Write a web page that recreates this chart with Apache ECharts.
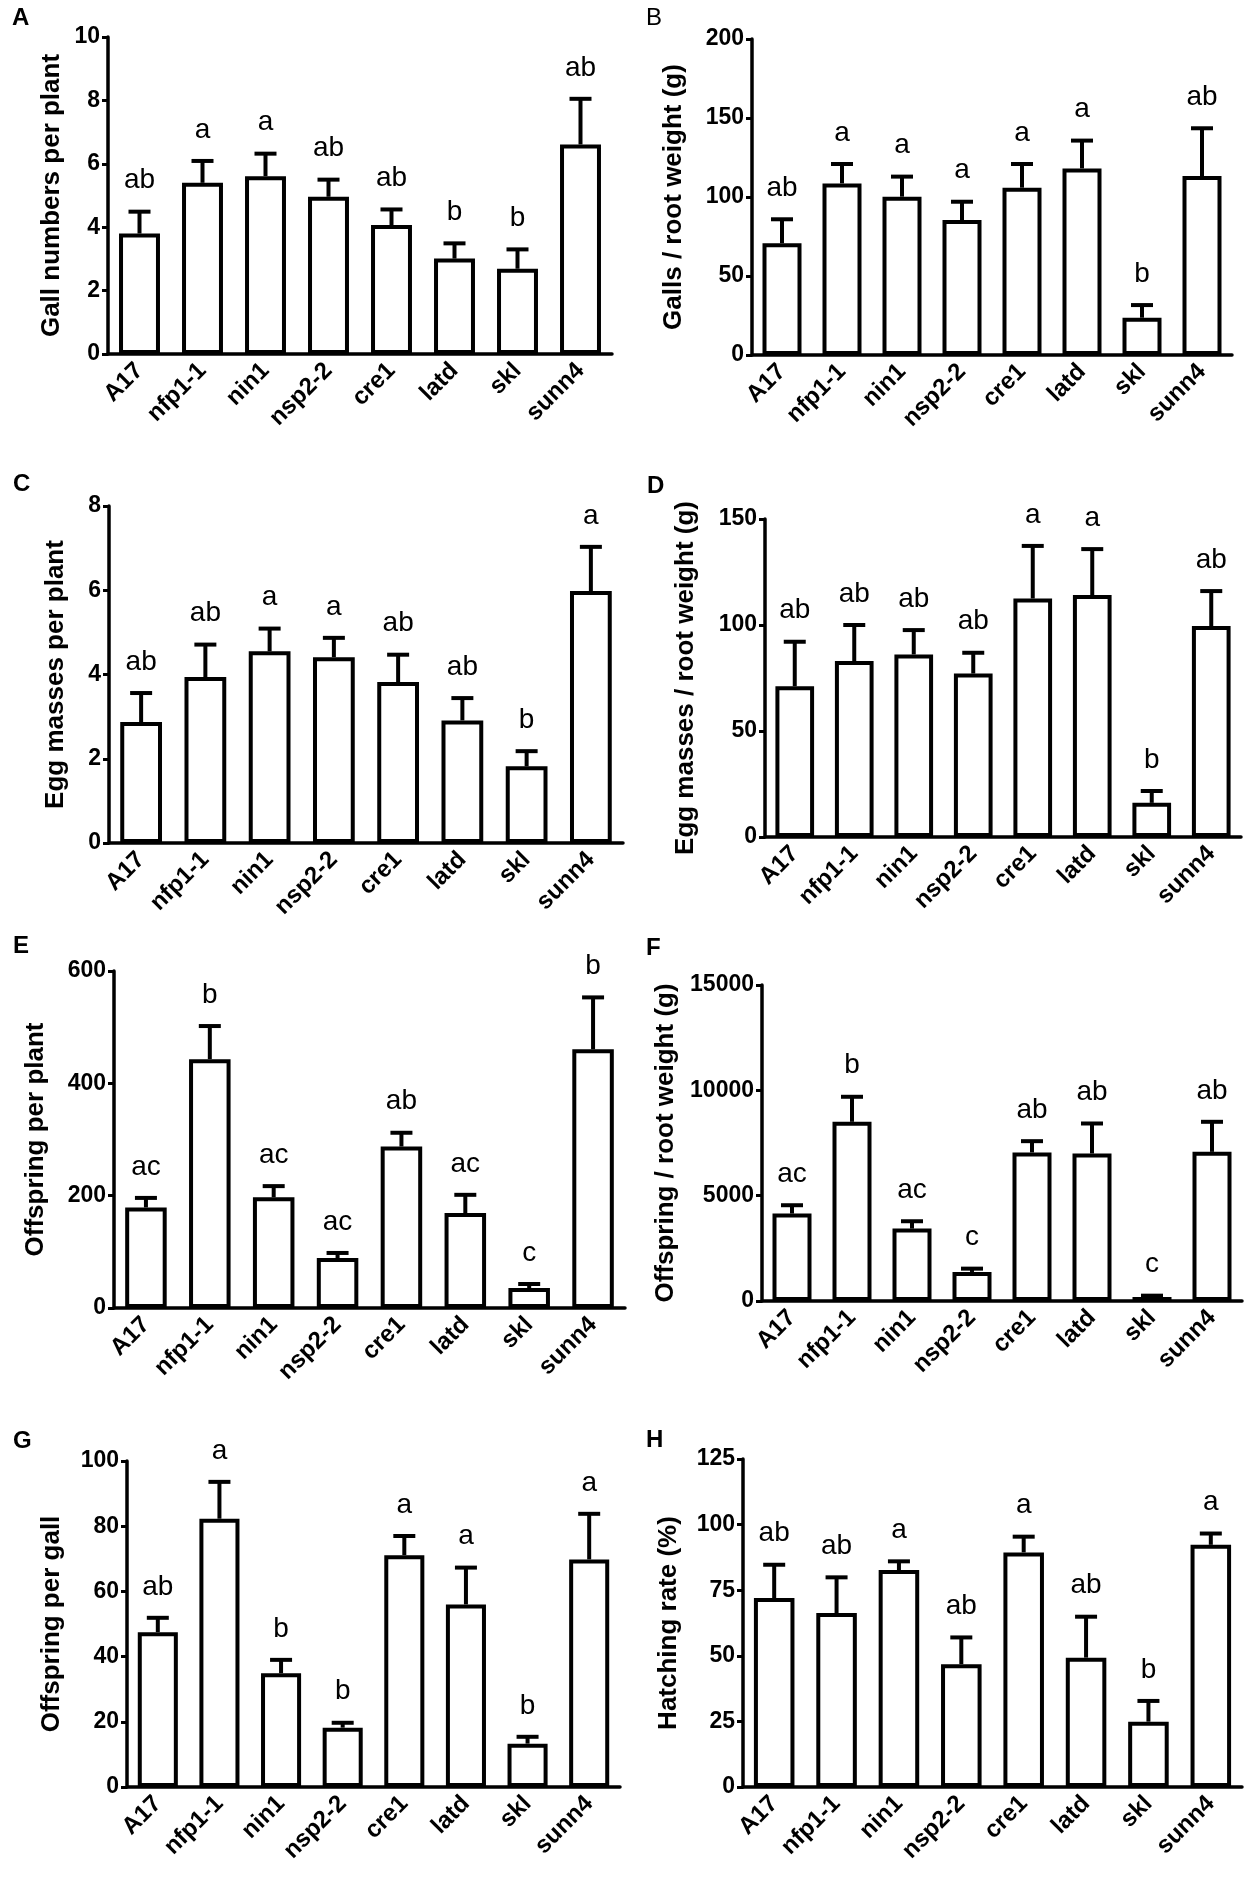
<!DOCTYPE html>
<html lang="en">
<head>
<meta charset="UTF-8">
<title>Nematode infection on nodulation mutants</title>
<script src="https://cdn.jsdelivr.net/npm/echarts@6/dist/echarts.min.js"></script>
<style>
html, body { margin: 0; background: #fff; }
#chart { width: 1244px; height: 1879px; }
</style>
</head>
<body>
<div id="chart"></div>
<script type="text/javascript">
var genotypes = ['A17', 'nfp1-1', 'nin1', 'nsp2-2', 'cre1', 'latd', 'skl', 'sunn4'];

// A - galls per plant
var gallsMean = [3.8, 5.4, 5.61, 4.96, 4.07, 3.01, 2.69, 6.61];
var gallsSem = [0.69, 0.69, 0.71, 0.54, 0.49, 0.48, 0.61, 1.44];
var gallsLetters = ['ab', 'a', 'a', 'ab', 'ab', 'b', 'b', 'ab'];
var gallsTicks = [0, 10, 2];

// B - galls / root weight
var gallsWtMean = [70.7, 108.6, 100.2, 85.4, 105.9, 118.1, 23.6, 113.3];
var gallsWtSem = [15.2, 12.3, 12.7, 11.6, 15.0, 17.6, 8.0, 30.2];
var gallsWtLetters = ['ab', 'a', 'a', 'a', 'a', 'a', 'b', 'ab'];
var gallsWtTicks = [0, 200, 50];

// C - egg masses per plant
var eggMean = [2.87, 3.94, 4.55, 4.41, 3.82, 2.91, 1.82, 5.98];
var eggSem = [0.69, 0.77, 0.54, 0.46, 0.65, 0.53, 0.36, 1.05];
var eggLetters = ['ab', 'ab', 'a', 'a', 'ab', 'ab', 'b', 'a'];
var eggTicks = [0, 8, 2];

// D - egg masses / root weight
var eggWtMean = [71.1, 83.0, 86.1, 77.1, 112.5, 114.1, 16.1, 99.5];
var eggWtSem = [21.0, 17.0, 11.5, 9.8, 24.8, 21.7, 5.6, 16.5];
var eggWtLetters = ['ab', 'ab', 'ab', 'ab', 'a', 'a', 'b', 'ab'];
var eggWtTicks = [0, 150, 50];

// E - offspring per plant
var offMean = [179, 443, 197, 89, 287.5, 169, 35.6, 460.6];
var offSem = [17, 59, 20, 9, 24.5, 32.5, 7.1, 92.4];
var offLetters = ['ac', 'b', 'ac', 'ac', 'ab', 'ac', 'c', 'b'];
var offTicks = [0, 600, 200];

// F - offspring / root weight
var offWtMean = [4150, 8506, 3437, 1378, 7049, 7001, 190, 7080];
var offWtSem = [396, 1188, 349, 158, 538, 1425, 63, 1426];
var offWtLetters = ['ac', 'b', 'ac', 'c', 'ab', 'ab', 'c', 'ab'];
var offWtTicks = [0, 15000, 5000];

// G - offspring per gall
var perGallMean = [47.5, 82.3, 34.9, 18.2, 71.1, 56.0, 13.3, 69.8];
var perGallSem = [4.4, 11.3, 4.1, 1.5, 5.9, 11.3, 2.1, 14.0];
var perGallLetters = ['ab', 'a', 'b', 'b', 'a', 'a', 'b', 'a'];
var perGallTicks = [0, 100, 20];

// H - hatching rate
var hatchMean = [72.0, 66.3, 82.7, 46.8, 89.4, 49.3, 24.9, 92.3];
var hatchSem = [12.7, 13.6, 3.3, 10.2, 6.0, 15.6, 7.9, 4.3];
var hatchLetters = ['ab', 'ab', 'a', 'ab', 'a', 'ab', 'b', 'a'];
var hatchTicks = [0, 125, 25];

var panels = [
    {tag: 'A', name: 'Gall numbers per plant', mean: gallsMean, sem: gallsSem, letters: gallsLetters, ticks: gallsTicks,
     grid: {left: 108, top: 37, width: 504, height: 317}, gap: 43, tagPos: [12, 6], bold: true},
    {tag: 'B', name: 'Galls / root weight (g)', mean: gallsWtMean, sem: gallsWtSem, letters: gallsWtLetters, ticks: gallsWtTicks,
     grid: {left: 752, top: 39, width: 480, height: 316}, gap: 65, tagPos: [646, 6], bold: false},
    {tag: 'C', name: 'Egg masses per plant', mean: eggMean, sem: eggSem, letters: eggLetters, ticks: eggTicks,
     grid: {left: 109, top: 506, width: 514, height: 337}, gap: 40, tagPos: [13, 472], bold: true},
    {tag: 'D', name: 'Egg masses / root weight (g)', mean: eggWtMean, sem: eggWtSem, letters: eggWtLetters, ticks: eggWtTicks,
     grid: {left: 765, top: 519, width: 476, height: 318}, gap: 66, tagPos: [647, 474], bold: true},
    {tag: 'E', name: 'Offspring per plant', mean: offMean, sem: offSem, letters: offLetters, ticks: offTicks,
     grid: {left: 114, top: 971, width: 511, height: 337}, gap: 65, tagPos: [13, 934], bold: true},
    {tag: 'F', name: 'Offspring / root weight (g)', mean: offWtMean, sem: offWtSem, letters: offWtLetters, ticks: offWtTicks,
     grid: {left: 762, top: 985, width: 480, height: 316}, gap: 83, tagPos: [646, 936], bold: true},
    {tag: 'G', name: 'Offspring per gall', mean: perGallMean, sem: perGallSem, letters: perGallLetters, ticks: perGallTicks,
     grid: {left: 127, top: 1461, width: 493, height: 326}, gap: 62, tagPos: [13, 1429], bold: true},
    {tag: 'H', name: 'Hatching rate (%)', mean: hatchMean, sem: hatchSem, letters: hatchLetters, ticks: hatchTicks,
     grid: {left: 743, top: 1459, width: 499, height: 328}, gap: 61, tagPos: [646, 1428], bold: true}
];

var FONT = 'Liberation Sans, Arial, Helvetica, sans-serif';
var grids = [], xAxes = [], yAxes = [], series = [], graphics = [];

panels.forEach(function (p, k) {
    grids.push(p.grid);
    xAxes.push({
        type: 'category', gridIndex: k, data: genotypes,
        axisLine: {lineStyle: {color: '#000', width: 3.5}},
        axisTick: {alignWithLabel: true, length: 8, lineStyle: {color: '#000', width: 3}},
        axisLabel: {rotate: 45, interval: 0, margin: 13, color: '#000', fontSize: 24, fontWeight: 'bold', fontFamily: FONT}
    });
    yAxes.push({
        type: 'value', gridIndex: k, min: p.ticks[0], max: p.ticks[1], interval: p.ticks[2],
        name: p.name, nameLocation: 'middle', nameGap: p.gap, nameRotate: 90,
        nameTextStyle: {color: '#000', fontSize: 26, fontWeight: 'bold', fontFamily: FONT},
        axisLine: {show: true, lineStyle: {color: '#000', width: 3.5}},
        axisTick: {show: true, length: 6, lineStyle: {color: '#000', width: 3}},
        axisLabel: {margin: 8, color: '#000', fontSize: 23, fontWeight: 'bold', fontFamily: FONT,
                    formatter: function (v) { return String(v); }},
        splitLine: {show: false}
    });
    series.push({
        type: 'bar', xAxisIndex: k, yAxisIndex: k, data: p.mean, barWidth: '65%',
        itemStyle: {color: '#fff', borderColor: '#000', borderWidth: 4},
        silent: true
    });
    var errData = p.mean.map(function (m, i) { return [i, m, m + p.sem[i]]; });
    series.push({
        type: 'custom', xAxisIndex: k, yAxisIndex: k, data: errData, z: 5, clip: false,
        renderItem: function (params, api) {
            var base = api.coord([api.value(0), api.value(1)]);
            var top = api.coord([api.value(0), api.value(2)]);
            var cap = 11;
            var style = {stroke: '#000', lineWidth: 4};
            return {
                type: 'group',
                children: [
                    {type: 'line', shape: {x1: base[0], y1: base[1], x2: top[0], y2: top[1]}, style: style},
                    {type: 'line', shape: {x1: top[0] - cap, y1: top[1], x2: top[0] + cap, y2: top[1]}, style: style},
                    {type: 'text', x: top[0], y: top[1] - 17,
                     style: {text: p.letters[params.dataIndex], fill: '#000', font: '28px ' + FONT,
                             textAlign: 'center', textVerticalAlign: 'bottom'}}
                ]
            };
        }
    });
    graphics.push({
        type: 'text', left: p.tagPos[0], top: p.tagPos[1],
        style: {text: p.tag, fill: '#000', font: (p.bold ? 'bold ' : '') + '24px ' + FONT}
    });
});

var myChart = echarts.init(document.getElementById('chart'));
myChart.setOption({
    animation: false,
    grid: grids,
    xAxis: xAxes,
    yAxis: yAxes,
    series: series,
    graphic: graphics
});
</script>
</body>
</html>
